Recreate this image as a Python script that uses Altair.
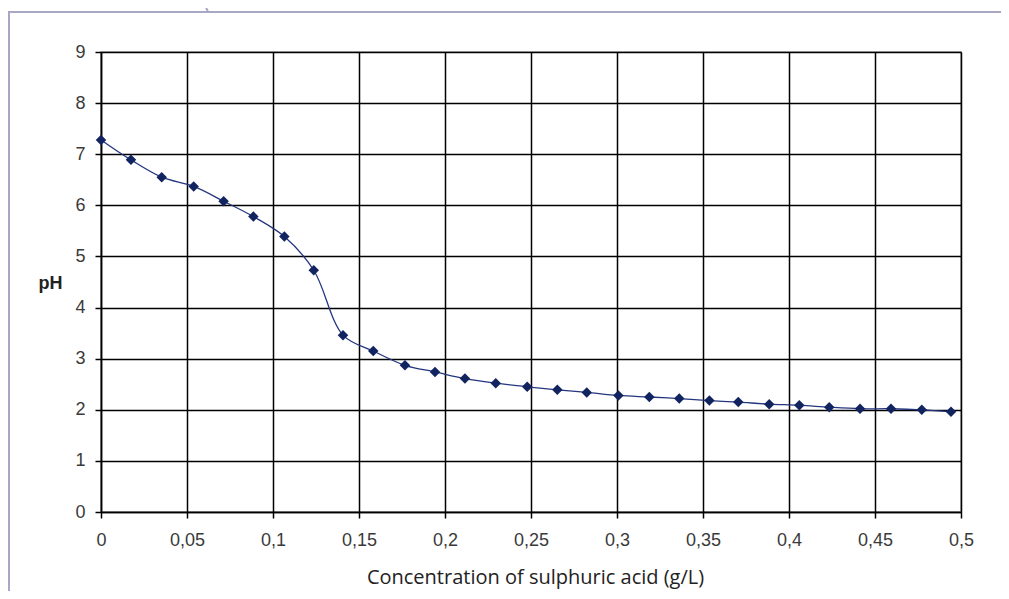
import altair as alt
import pandas as pd

# Data
CONC = [0, 0.0174, 0.0353, 0.0539, 0.0713, 0.0886, 0.1066, 0.1237, 0.1407, 0.1583,
        0.1767, 0.1942, 0.2116, 0.2295, 0.2478, 0.2653, 0.2824, 0.3008, 0.3188,
        0.3362, 0.3537, 0.3705, 0.3885, 0.406, 0.4234, 0.4413, 0.4593, 0.4772, 0.4942]
PH = [7.28, 6.89, 6.55, 6.37, 6.08, 5.78, 5.39, 4.73, 3.46, 3.15,
      2.87, 2.74, 2.61, 2.52, 2.45, 2.39, 2.34, 2.28, 2.25,
      2.22, 2.18, 2.15, 2.11, 2.09, 2.05, 2.02, 2.02, 2.00, 1.96]
X_TICKS = [0, 0.05, 0.1, 0.15, 0.2, 0.25, 0.3, 0.35, 0.4, 0.45, 0.5]
Y_TICKS = [0, 1, 2, 3, 4, 5, 6, 7, 8, 9]
X_TITLE = "Concentration of sulphuric acid (g/L)"
Y_TITLE = "pH"

df = pd.DataFrame({"conc": CONC, "ph": PH})

label_expr = "replace(format(datum.value, '.2~f'), '.', ',')"

x_enc = alt.X(
    "conc:Q",
    scale=alt.Scale(domain=[0, 0.5], nice=False, zero=False),
    axis=alt.Axis(
        values=X_TICKS, labelExpr=label_expr, title=X_TITLE,
        grid=True, gridColor="#000000", gridWidth=1.5,
        domainColor="#000000", domainWidth=1.5,
        tickColor="#000000", tickSize=6, tickWidth=1.5,
        labelFont="Liberation Sans", labelFontSize=18, labelColor="#3a3a3a",
        labelPadding=13, labelFlush=False,
        titleFont="Open Sans", titleFontSize=20, titleFontWeight="normal",
        titleColor="#222222", titleX=434, titleY=65, titleBaseline="middle",
        titleAlign="center", titleAnchor=None,
    ),
)
y_enc = alt.Y(
    "ph:Q",
    scale=alt.Scale(domain=[0, 9], nice=False, zero=True),
    axis=alt.Axis(
        values=Y_TICKS, title=Y_TITLE,
        grid=True, gridColor="#000000", gridWidth=1.5,
        domainColor="#000000", domainWidth=1.5,
        tickColor="#000000", tickSize=6, tickWidth=1.5,
        labelFont="Liberation Sans", labelFontSize=18, labelColor="#3a3a3a",
        labelPadding=10, labelFlush=False,
        titleFont="Liberation Sans", titleFontSize=18, titleFontWeight="bold",
        titleColor="#222222", titleAngle=0, titleX=-51, titleY=231,
        titleAlign="center", titleBaseline="middle",
    ),
)

base = alt.Chart(df)
line = base.mark_line(color="#23367f", strokeWidth=1.3, interpolate="catmull-rom").encode(x=x_enc, y=y_enc)
pts = base.mark_point(shape="diamond", filled=True, size=110, color="#12245f", opacity=1).encode(x="conc:Q", y="ph:Q")

deco = pd.DataFrame({"k": [0]})
frame_color = "#a8a8c6"
left_frame = alt.Chart(deco).mark_rule(color=frame_color, strokeWidth=2).encode(
    x=alt.value(-92), y=alt.value(-40), y2=alt.value(540))
top_frame = alt.Chart(deco).mark_rule(color=frame_color, strokeWidth=2).encode(
    x=alt.value(-93), x2=alt.value(902), y=alt.value(-40))
diag_frame = alt.Chart(deco).mark_rule(color=frame_color, strokeWidth=2).encode(
    x=alt.value(102), x2=alt.value(107), y=alt.value(-52), y2=alt.value(-40))

chart = alt.layer(line, pts, left_frame, top_frame, diag_frame).properties(
    width=860, height=460,
    autosize=alt.AutoSizeParams(type="none"),
    padding={"left": 93, "top": 44, "right": 40, "bottom": 79},
    background="white",
).configure_view(stroke="#a0a0a0", strokeWidth=1.5)

chart.save("out.html", embed_options={"renderer": "svg", "actions": False})
